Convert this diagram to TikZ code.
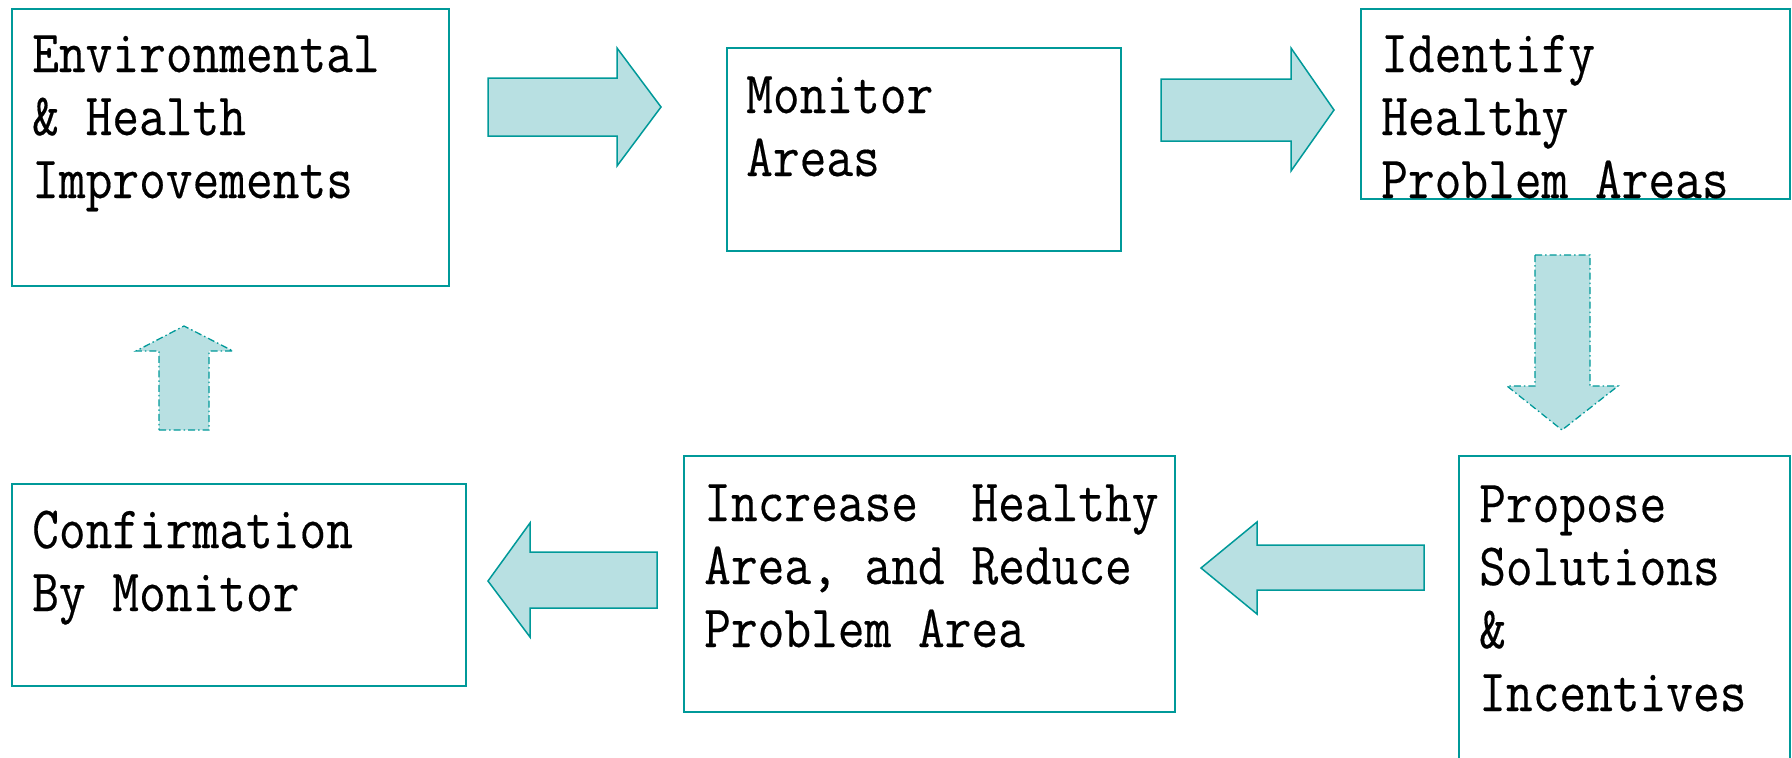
\documentclass[tikz,border=0pt]{standalone}
\usepackage{fontspec}
\newfontfamily\boxfont[FakeStretch=0.865, FakeBold=0.3]{Latin Modern Mono}
\definecolor{tealline}{RGB}{0,153,153}
\definecolor{aquafill}{RGB}{184,224,226}
\begin{document}
\begin{tikzpicture}[x=1pt,y=-1pt,
  box/.style={draw=tealline, line width=1.5pt, inner sep=0pt, anchor=north west},
  lbl/.style={font=\boxfont\fontsize{60}{63}\selectfont, align=left, inner sep=0pt, anchor=base west},
  blockarrow/.style={fill=aquafill, draw=tealline, line width=1.5pt, line join=miter},
  dasharrow/.style={blockarrow, line width=1.3pt, dash pattern=on 7pt off 3pt on 1.5pt off 3pt}]
\useasboundingbox (0,0) rectangle (1792,758);

% process boxes
\node[box, minimum width=437pt, minimum height=277pt] (env) at (11,8) {};
\node[box, minimum width=394pt, minimum height=203pt] (mon) at (726,47) {};
\node[box, minimum width=429pt, minimum height=190pt] (ident) at (1360,8) {};
\node[box, minimum width=331pt, minimum height=320pt] (prop) at (1458,455) {};
\node[box, minimum width=491pt, minimum height=256pt] (incr) at (683,455) {};
\node[box, minimum width=454pt, minimum height=202pt] (conf) at (11,483) {};

% box texts (placed by the baseline of their last line)
\node[lbl] (envtext) at (32,198) {Environmental\\\& Health\\Improvements};
\node[lbl] (montext) at (746,176) {Monitor\\Areas};
\node[lbl] (identtext) at (1381,198) {Identify\\Healthy\\Problem Areas};
\node[lbl] (proptext) at (1479,711) {Propose\\Solutions\\\&\\Incentives};
\node[lbl] (incrtext) at (704,647) {Increase\ \ Healthy\\Area, and Reduce\\Problem Area};
\node[lbl] (conftext) at (32,611) {Confirmation\\By Monitor};

% block arrows between the steps
\draw[blockarrow] (488,78) -- (617,78) -- (617,48) -- (661,107) -- (617,166) -- (617,136) -- (488,136) -- cycle;
\draw[blockarrow] (1161,79) -- (1291,79) -- (1291,48) -- (1334,110) -- (1291,171) -- (1291,141) -- (1161,141) -- cycle;
\draw[dasharrow] (1535,255) -- (1590,255) -- (1590,386) -- (1618,386) -- (1562,430) -- (1507,386) -- (1535,386) -- cycle;
\draw[blockarrow] (1424,545) -- (1257,545) -- (1257,522) -- (1201,568) -- (1257,614) -- (1257,590) -- (1424,590) -- cycle;
\draw[blockarrow] (657,552) -- (530,552) -- (530,523) -- (488,581) -- (530,637) -- (530,608) -- (657,608) -- cycle;
\draw[dasharrow] (159,430) -- (209,430) -- (209,351) -- (233,351) -- (184,326) -- (136,351) -- (159,351) -- cycle;
\end{tikzpicture}
\end{document}
